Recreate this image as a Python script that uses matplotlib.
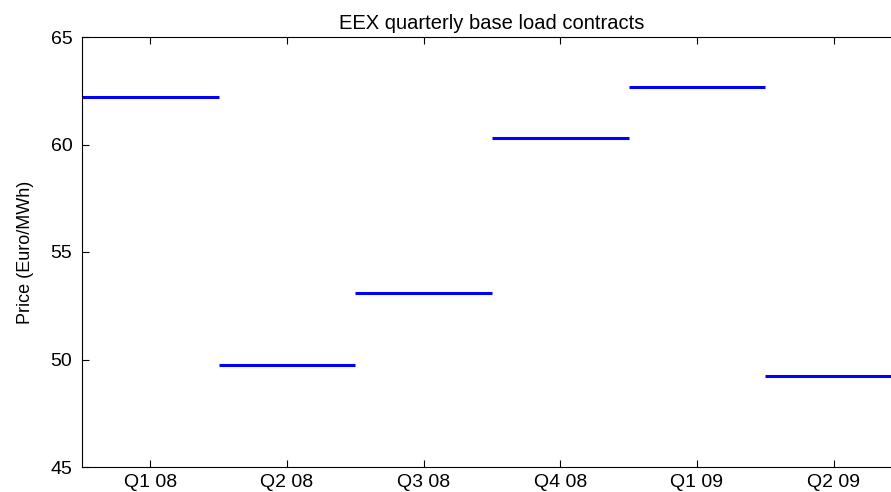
import numpy as np
import matplotlib
matplotlib.use("Agg")
import matplotlib.pyplot as plt

plt.rcParams['font.family'] = ['Liberation Sans', 'DejaVu Sans']

# quarterly contract prices
quarters = ['Q1 08', 'Q2 08', 'Q3 08', 'Q4 08', 'Q1 09', 'Q2 09']
prices = [62.22, 49.74, 53.1, 60.3, 62.68, 49.22]

x = np.arange(len(quarters))

fig = plt.figure(figsize=(8.91, 4.92), dpi=100)
# axes run past the right edge, as in the original
ax = fig.add_axes([82/891, 25/492, 820/891, 430/492])

ax.hlines(prices, x - 0.5, x + 0.5, colors='#0000ff', linewidth=2.2)

ax.set_xlim(-0.5, len(quarters) - 0.5)
ax.set_ylim(45, 65)
ax.set_xticks(x)
ax.set_xticklabels(quarters)
ax.set_yticks([45, 50, 55, 60, 65])
ax.tick_params(direction='in', top=True, right=True, length=5, width=0.8,
               labelsize=14, pad=7)
ax.tick_params(axis='x', pad=5)
for s in ax.spines.values():
    s.set_linewidth(0.8)

ax.set_ylabel('Price (Euro/MWh)', fontsize=13, labelpad=12)
ax.set_title('EEX quarterly base load contracts', fontsize=14.5, pad=6)

fig.savefig('out.png', dpi=100)
